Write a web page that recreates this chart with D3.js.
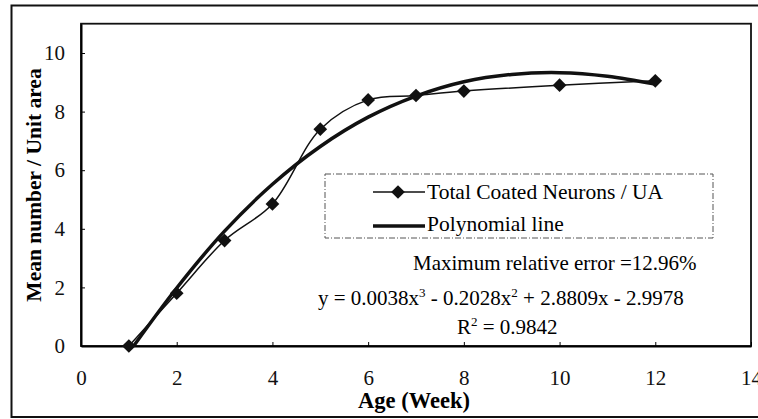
<!DOCTYPE html>
<html><head><meta charset="utf-8">
<script src="https://cdn.jsdelivr.net/npm/d3@7"></script>
<style>body{margin:0;background:#fff}svg{display:block}</style>
</head><body><svg id="c" width="758" height="419"></svg>
<script>
const weeks = [1, 2, 3, 4, 5, 6, 7, 8, 10, 12];
const neurons = [0, 1.8, 3.6, 4.85, 7.4, 8.4, 8.55, 8.7, 8.9, 9.05];
const polyX = [1.1, 2, 3, 4, 5, 6, 7, 8, 9, 10, 11, 12];
const polyY = [0, 1.98, 3.92, 5.52, 6.81, 7.81, 8.53, 9.02, 9.27, 9.33, 9.21, 8.94];
const xTicks = [0, 2, 4, 6, 8, 10, 12, 14];
const yTicks = [0, 2, 4, 6, 8, 10];

const FONT = "'Liberation Serif', Tinos, 'Times New Roman', 'DejaVu Serif', serif";
const svg = d3.select("#c").style("font-family", FONT);
const x = d3.scaleLinear().domain([0, 14]).range([81, 751]);
const y = d3.scaleLinear().domain([0, 11]).range([346, 23.7]);

svg.append("rect").attr("x", 11.5).attr("y", 5.5).attr("width", 760).attr("height", 411.5)
  .attr("fill", "none").attr("stroke", "#111").attr("stroke-width", 2);
svg.append("rect").attr("x", x(0)).attr("y", y(11)).attr("width", x(14) - x(0)).attr("height", y(0) - y(11))
  .attr("fill", "none").attr("stroke", "#111").attr("stroke-width", 1.8);

const xa = svg.append("g").attr("transform", `translate(0,${y(0)})`)
  .call(d3.axisBottom(x).tickValues(xTicks).tickSizeInner(-4).tickSizeOuter(0).tickPadding(24));
xa.attr("font-family", FONT);
xa.select(".domain").attr("stroke-width", 2);
xa.selectAll("text").attr("font-size", 21).attr("fill", "#111");
const ya = svg.append("g").attr("transform", `translate(${x(0)},0)`)
  .call(d3.axisLeft(y).tickValues(yTicks).tickSizeInner(-4).tickSizeOuter(0).tickPadding(16));
ya.attr("font-family", FONT);
ya.select(".domain").attr("stroke-width", 2);
ya.selectAll("text").attr("font-size", 21).attr("fill", "#111");

svg.append("text").attr("x", 414).attr("y", 408).attr("text-anchor", "middle")
  .attr("font-size", 22.5).attr("font-weight", "bold").text("Age (Week)");
svg.append("text").attr("transform", "translate(41,185) rotate(-90)").attr("text-anchor", "middle")
  .attr("font-size", 21.5).attr("font-weight", "bold").text("Mean number / Unit area");

svg.append("rect").attr("x", 325).attr("y", 174).attr("width", 388).attr("height", 64)
  .attr("fill", "#fff").attr("stroke", "#555").attr("stroke-width", 1).attr("stroke-dasharray", "6,2,1,2");

const poly = polyX.map((d, i) => [d, polyY[i]]);
svg.append("path").datum(poly).attr("fill", "none").attr("stroke", "#111").attr("stroke-width", 3.5)
  .attr("d", d3.line().x(d => x(d[0])).y(d => y(d[1])).curve(d3.curveCatmullRom));

const pts = weeks.map((d, i) => [d, neurons[i]]);
svg.append("path").datum(pts).attr("fill", "none").attr("stroke", "#111").attr("stroke-width", 1.5)
  .attr("d", d3.line().x(d => x(d[0])).y(d => y(d[1])).curve(d3.curveCatmullRom));
const diamond = d3.symbol().type(d3.symbolDiamond2).size(120);
svg.selectAll(".pt").data(pts).join("path").attr("class", "pt")
  .attr("transform", d => `translate(${x(d[0])},${y(d[1])})`)
  .attr("d", diamond).attr("fill", "#111");

svg.append("line").attr("x1", 373).attr("x2", 425).attr("y1", 192).attr("y2", 192).attr("stroke", "#111").attr("stroke-width", 1.5);
svg.append("path").attr("transform", "translate(398,192)").attr("d", diamond).attr("fill", "#111");
svg.append("text").attr("x", 427).attr("y", 199).attr("font-size", 21.5).text("Total Coated Neurons / UA");
svg.append("line").attr("x1", 373).attr("x2", 425).attr("y1", 226).attr("y2", 226).attr("stroke", "#111").attr("stroke-width", 3.5);
svg.append("text").attr("x", 427).attr("y", 231).attr("font-size", 21.5).text("Polynomial line");

svg.append("text").attr("x", 413).attr("y", 270).attr("font-size", 21).text("Maximum relative error =12.96%");
const eq = svg.append("text").attr("x", 318).attr("y", 305).attr("font-size", 21);
eq.append("tspan").text("y = 0.0038x");
eq.append("tspan").attr("dy", -8).attr("font-size", 13).text("3");
eq.append("tspan").attr("dy", 8).text(" - 0.2028x");
eq.append("tspan").attr("dy", -8).attr("font-size", 13).text("2");
eq.append("tspan").attr("dy", 8).text(" + 2.8809x - 2.9978");
const r2 = svg.append("text").attr("x", 457).attr("y", 334).attr("font-size", 21);
r2.append("tspan").text("R");
r2.append("tspan").attr("dy", -8).attr("font-size", 13).text("2");
r2.append("tspan").attr("dy", 8).text(" = 0.9842");
</script></body></html>
